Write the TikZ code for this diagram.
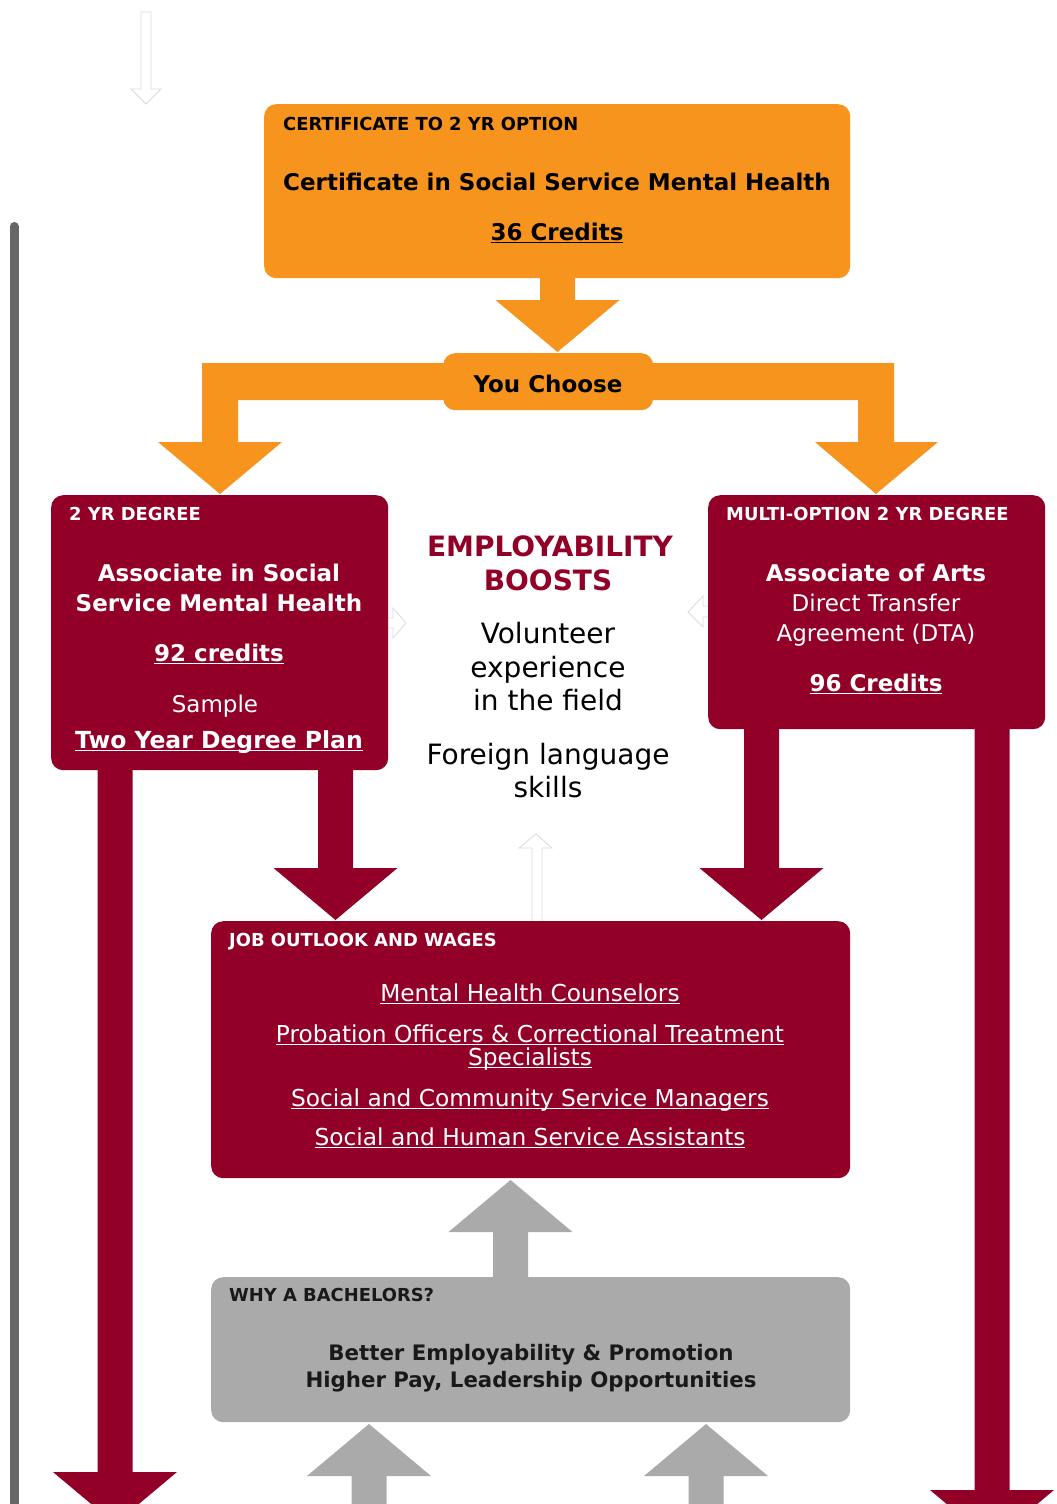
\documentclass[tikz,border=0pt]{standalone}
\usepackage{fontspec}
\setmainfont{DejaVu Sans}
\definecolor{orng}{HTML}{F7941D}
\definecolor{crim}{HTML}{920028}
\definecolor{gbox}{HTML}{AAAAAA}
\definecolor{gline}{HTML}{666666}
\newcommand\myul[1]{\setbox0\hbox{#1}\rlap{\rule[-3.3pt]{\wd0}{1.6pt}}\box0}
\newcommand\varr[5]{%
  \fill[#1] ({#2-17.5},#3) -- ({#2+17.5},#3) -- ({#2+17.5},#4) -- ({#2+62},#4) -- (#2,#5) -- ({#2-62},#4) -- ({#2-17.5},#4) -- cycle;}
\tikzset{
  ttl/.style={font=\fontsize{17.9}{20}\selectfont\bfseries, anchor=base west, inner sep=0pt},
  med/.style={font=\fontsize{23}{28}\selectfont, anchor=base, inner sep=0pt},
  lnk/.style={font=\fontsize{23.3}{28}\selectfont, anchor=base, inner sep=0pt},
  medb/.style={font=\fontsize{23}{28}\selectfont\bfseries, anchor=base, inner sep=0pt},
  big/.style={font=\fontsize{28}{34}\selectfont, anchor=base, inner sep=0pt},
  bigb/.style={font=\fontsize{28}{34}\selectfont\bfseries, anchor=base, inner sep=0pt},
  panel/.style={rounded corners=12pt, inner sep=0pt, anchor=north west},
  faint/.style={fill=white, draw=black!14, line width=0.8pt},
}
\begin{document}
\begin{tikzpicture}[x=1pt,y=-1pt]
\useasboundingbox (0,0) rectangle (1057,1504);
\clip (0,0) rectangle (1057,1504);
\fill[white] (0,0) rectangle (1057,1504);

% left gray line
\draw[gline, line width=9pt, line cap=round] (14,226.5) -- (14,1510);

% faint arrows
\filldraw[faint] (141,12) -- (151,12) -- (151,89) -- (161,89) -- (146,104) -- (131,89) -- (141,89) -- cycle;
\filldraw[faint] (384,618) -- (393,618) -- (393,608) -- (406,623) -- (393,638) -- (393,628) -- (384,628) -- cycle;
\filldraw[faint] (712,606) -- (703,606) -- (703,596) -- (688,612) -- (703,627) -- (703,617) -- (712,617) -- cycle;
\filldraw[faint] (532,924) -- (532,848) -- (519,848) -- (536,834) -- (552,848) -- (542,848) -- (542,924) -- cycle;

% block arrows
\varr{orng}{557.5}{277}{300}{352}
\fill[orng] (202,442) -- (202,363) -- (894,363) -- (894,442) -- (938,442) -- (876,494) -- (815,442) -- (858,442) -- (858,400) -- (238,400) -- (238,442) -- (282,442) -- (220,494) -- (158,442) -- cycle;
\varr{crim}{115}{769}{1472}{1524}
\varr{crim}{335.5}{769}{868}{920}
\varr{crim}{761.5}{728}{868}{920}
\varr{crim}{992}{728}{1490}{1542}
\varr{gbox}{510.5}{1278}{1232}{1180}
\varr{gbox}{369}{1510}{1476}{1424}
\varr{gbox}{706}{1510}{1476}{1424}

% panels
\node[panel, fill=orng, minimum width=586pt, minimum height=174pt] (cert) at (264,104) {};
\node[panel, fill=orng, minimum width=210pt, minimum height=57pt] (choose) at (443,353) {};
\node[panel, fill=crim, minimum width=337pt, minimum height=275pt] (left) at (51,495) {};
\node[panel, fill=crim, minimum width=337pt, minimum height=234pt] (right) at (708,495) {};
\node[panel, fill=crim, minimum width=639pt, minimum height=257pt] (job) at (211,921) {};
\node[panel, fill=gbox, minimum width=639pt, minimum height=145pt] (why) at (211,1277) {};

% certificate texts
\node[ttl] (t1) at (283,130) {CERTIFICATE TO 2 YR OPTION};
\node[medb] (t2) at (557,190) {Certificate in Social Service Mental Health};
\node[medb] (t3) at (557,240) {\myul{36 Credits}};
\node[medb] (t4) at (548,392) {You Choose};

% left box
\node[ttl, white] (l1) at (69,520) {2 YR DEGREE};
\node[medb, white] (l2) at (219,581) {Associate in Social};
\node[medb, white] (l3) at (219,611) {Service Mental Health};
\node[medb, white] (l4) at (219,661) {\myul{92 credits}};
\node[med, white] (l5) at (215,712) {Sample};
\node[medb, white, font=\fontsize{23.5}{28}\selectfont\bfseries] (l6) at (219,748) {\myul{Two Year Degree Plan}};

% middle texts
\node[bigb, crim] (m1) at (550,556) {EMPLOYABILITY};
\node[bigb, crim] (m2) at (548,590) {BOOSTS};
\node[big] (m3) at (548,643) {Volunteer};
\node[big] (m4) at (548,677) {experience};
\node[big] (m5) at (548,710) {in the field};
\node[big] (m6) at (548,764) {Foreign language};
\node[big] (m7) at (548,797) {skills};

% right box
\node[ttl, white] (r1) at (726,520) {MULTI-OPTION 2 YR DEGREE};
\node[medb, white] (r2) at (876,581) {Associate of Arts};
\node[med, white] (r3) at (876,611) {Direct Transfer};
\node[med, white] (r4) at (876,641) {Agreement (DTA)};
\node[medb, white] (r5) at (876,691) {\myul{96 Credits}};

% job box
\node[ttl, white] (j1) at (229,946) {JOB OUTLOOK AND WAGES};
\node[lnk, white] (j2) at (530,1001) {\myul{Mental Health Counselors}};
\node[lnk, white] (j3) at (530,1042) {\myul{Probation Officers \& Correctional Treatment}};
\node[lnk, white] (j4) at (530,1065) {\myul{Specialists}};
\node[lnk, white] (j5) at (530,1106) {\myul{Social and Community Service Managers}};
\node[lnk, white] (j6) at (530,1145) {\myul{Social and Human Service Assistants}};

% why box
\node[ttl, black!90] (w1) at (229,1301) {WHY A BACHELORS?};
\node[medb, black!90, font=\fontsize{21.3}{26}\selectfont\bfseries] (w2) at (531,1360) {Better Employability \& Promotion};
\node[medb, black!90, font=\fontsize{21.3}{26}\selectfont\bfseries] (w3) at (531,1387) {Higher Pay, Leadership Opportunities};
\end{tikzpicture}
\end{document}
